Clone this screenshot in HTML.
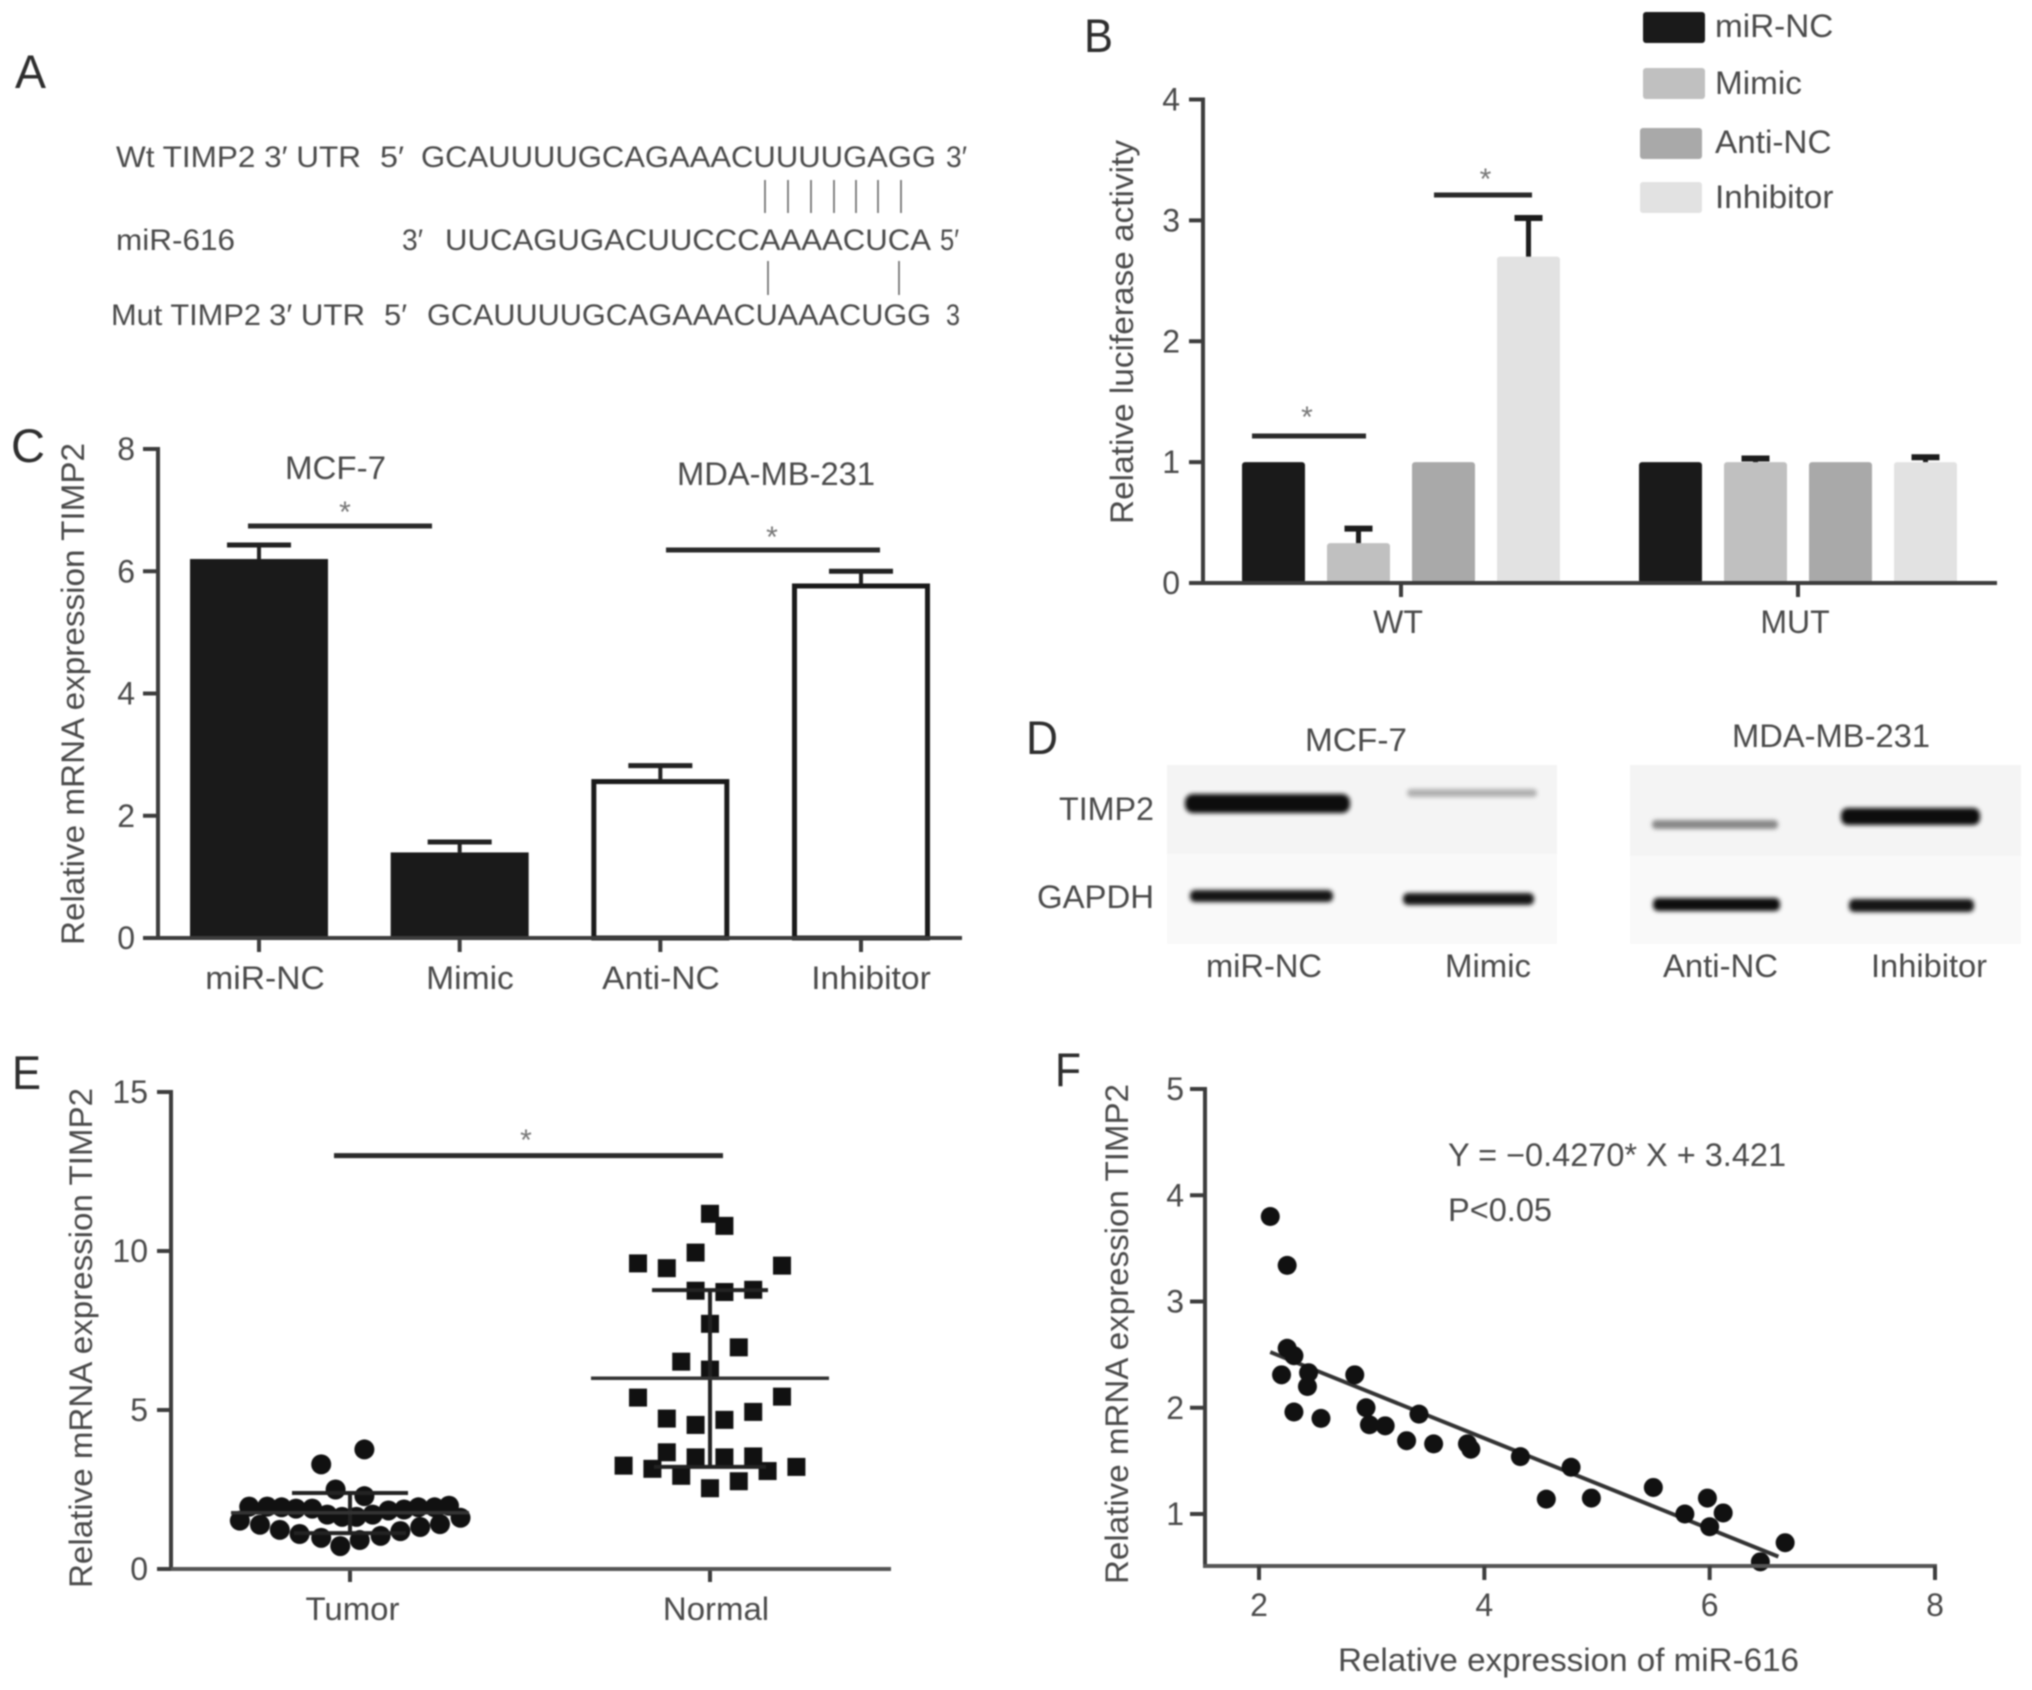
<!DOCTYPE html>
<html lang="en">
<head>
<meta charset="utf-8">
<title>miR-616 and TIMP2 figure</title>
<style>
html,body{margin:0;padding:0;background:#fff;}
svg{display:block;filter:blur(0.9px);}
text{font-family:"Liberation Sans",sans-serif;fill:#4a4a4a;}
.lab{font-size:32px;}
.seq{font-size:30px;}
.title{font-size:32px;}
.panel{font-size:47px;fill:#2e2e2e;}
</style>
</head>
<body>
<svg id="fig" xmlns="http://www.w3.org/2000/svg" width="2032" height="1690" viewBox="0 0 2032 1690">
<defs>
<filter id="soft" x="-20%" y="-100%" width="140%" height="300%"><feGaussianBlur stdDeviation="2.2"/></filter>
</defs>
<rect x="0" y="0" width="2032" height="1690" fill="#fff"/>

<!-- Panel letters -->
<text class="panel" x="15" y="88" textLength="31" lengthAdjust="spacingAndGlyphs">A</text>
<text class="panel" x="1084" y="52" textLength="29" lengthAdjust="spacingAndGlyphs">B</text>
<text class="panel" x="11" y="462" textLength="34" lengthAdjust="spacingAndGlyphs">C</text>
<text class="panel" x="1026" y="754" textLength="32" lengthAdjust="spacingAndGlyphs">D</text>
<text class="panel" x="12" y="1089" textLength="29" lengthAdjust="spacingAndGlyphs">E</text>
<text class="panel" x="1055" y="1086" textLength="26" lengthAdjust="spacingAndGlyphs">F</text>

<g transform="translate(-3,0)">
<!-- Panel A -->
<g>
<text class="seq" x="119" y="167" textLength="245" lengthAdjust="spacingAndGlyphs">Wt TIMP2 3′ UTR</text>
<text class="seq" x="383" y="167" textLength="24" lengthAdjust="spacingAndGlyphs">5′</text>
<text class="seq" x="424" y="167" textLength="515" lengthAdjust="spacingAndGlyphs">GCAUUUUGCAGAAACUUUUGAGG</text>
<text class="seq" x="949" y="167" textLength="21" lengthAdjust="spacingAndGlyphs">3′</text>
<text class="seq" x="119" y="250" textLength="119" lengthAdjust="spacingAndGlyphs">miR-616</text>
<text class="seq" x="405" y="250" textLength="21" lengthAdjust="spacingAndGlyphs">3′</text>
<text class="seq" x="448" y="250" textLength="486" lengthAdjust="spacingAndGlyphs">UUCAGUGACUUCCCAAAACUCA</text>
<text class="seq" x="943" y="250" textLength="19" lengthAdjust="spacingAndGlyphs">5′</text>
<text class="seq" x="114" y="325" textLength="150" lengthAdjust="spacingAndGlyphs">Mut TIMP2</text>
<text class="seq" x="272" y="325" textLength="96" lengthAdjust="spacingAndGlyphs">3′ UTR</text>
<text class="seq" x="387" y="325" textLength="23" lengthAdjust="spacingAndGlyphs">5′</text>
<text class="seq" x="430" y="325" textLength="504" lengthAdjust="spacingAndGlyphs">GCAUUUUGCAGAAACUAAACUGG</text>
<text class="seq" x="949" y="325" textLength="14" lengthAdjust="spacingAndGlyphs">3</text>
<g stroke="#666" stroke-width="1.6">
<line x1="768" x2="768" y1="180" y2="213"/><line x1="791" x2="791" y1="180" y2="213"/><line x1="814" x2="814" y1="180" y2="213"/><line x1="837" x2="837" y1="180" y2="213"/><line x1="859" x2="859" y1="180" y2="213"/><line x1="881" x2="881" y1="180" y2="213"/><line x1="904" x2="904" y1="180" y2="213"/>
</g>
<g stroke="#666" stroke-width="1.6">
<line x1="771" x2="771" y1="261" y2="295"/><line x1="902" x2="902" y1="261" y2="295"/>
</g>
</g>

<text class="title" transform="translate(1136,332) rotate(-90)" text-anchor="middle" textLength="384" lengthAdjust="spacingAndGlyphs">Relative luciferase activity</text>
<text class="title" transform="translate(87,694) rotate(-90)" text-anchor="middle" textLength="502" lengthAdjust="spacingAndGlyphs">Relative mRNA expression TIMP2</text>
<text class="title" transform="translate(95,1338) rotate(-90)" text-anchor="middle" textLength="500" lengthAdjust="spacingAndGlyphs">Relative mRNA expression TIMP2</text>
<text class="title" transform="translate(1131,1334) rotate(-90)" text-anchor="middle" textLength="500" lengthAdjust="spacingAndGlyphs">Relative mRNA expression TIMP2</text>
<text class="lab" x="1341" y="1671" textLength="461" lengthAdjust="spacingAndGlyphs">Relative expression of miR-616</text>
<text class="lab" x="1451" y="1166" textLength="338" lengthAdjust="spacingAndGlyphs">Y = −0.4270* X + 3.421</text>
<text class="lab" x="1451" y="1221" textLength="104" lengthAdjust="spacingAndGlyphs">P&lt;0.05</text>
<text class="lab" x="288" y="479" textLength="101" lengthAdjust="spacingAndGlyphs">MCF-7</text>
<text class="lab" x="680" y="485" textLength="198" lengthAdjust="spacingAndGlyphs">MDA-MB-231</text>

<!-- Panel D western blot -->
<g>
<text class="lab" x="1308" y="751" textLength="102" lengthAdjust="spacingAndGlyphs">MCF-7</text>
<text class="lab" x="1735" y="747" textLength="198" lengthAdjust="spacingAndGlyphs">MDA-MB-231</text>
<text class="lab" x="1062" y="820" textLength="95" lengthAdjust="spacingAndGlyphs">TIMP2</text>
<text class="lab" x="1040" y="908" textLength="117" lengthAdjust="spacingAndGlyphs">GAPDH</text>
<text class="lab" x="1209" y="977" textLength="116" lengthAdjust="spacingAndGlyphs">miR-NC</text>
<text class="lab" x="1448" y="977" textLength="86" lengthAdjust="spacingAndGlyphs">Mimic</text>
<text class="lab" x="1666" y="977" textLength="115" lengthAdjust="spacingAndGlyphs">Anti-NC</text>
<text class="lab" x="1874" y="977" textLength="116" lengthAdjust="spacingAndGlyphs">Inhibitor</text>
<rect x="1170" y="765" width="390" height="89" fill="#f4f4f4"/>
<rect x="1170" y="854" width="390" height="90" fill="#f9f9f9"/>
<rect x="1633" y="765" width="391" height="91" fill="#f4f4f4"/>
<rect x="1633" y="856" width="391" height="88" fill="#f9f9f9"/>
<g filter="url(#soft)">
<rect x="1188" y="794" width="165" height="19" rx="8" fill="#0c0c0c"/>
<rect x="1410" y="789" width="130" height="8" rx="4" fill="#b0b0b0"/>
<rect x="1655" y="820" width="126" height="9" rx="4" fill="#888"/>
<rect x="1844" y="808" width="139" height="17" rx="7" fill="#0c0c0c"/>
<rect x="1193" y="890" width="143" height="12" rx="5" fill="#151515"/>
<rect x="1406" y="893" width="131" height="12" rx="5" fill="#151515"/>
<rect x="1656" y="898" width="127" height="13" rx="5" fill="#101010"/>
<rect x="1852" y="899" width="125" height="13" rx="5" fill="#151515"/>
</g>
</g>

<g id="chartB"></g>
<g id="chartC"></g>
<g id="chartE"></g>
<g id="chartF"></g>
</g>
</svg>

<script>
// Panel B data
const bCategories = ['WT', 'MUT'];
const bSeries = ['miR-NC', 'Mimic', 'Anti-NC', 'Inhibitor'];
const bColors = ['#1a1a1a', '#c0c0c0', '#a9a9a9', '#e2e2e2'];
const bWtValues = [1, 0.33, 1, 2.7];
const bMutValues = [1, 1, 1, 1];
const bWtErrTops = [1, 0.45, 1, 3.02];
const bMutErrTops = [1, 1.03, 1, 1.04];
const bTicks = [0, 1, 2, 3, 4];

// Panel C data
const cCategories = ['miR-NC', 'Mimic', 'Anti-NC', 'Inhibitor'];
const cValues = [6.2, 1.4, 2.6, 5.8];
const cErrTops = [6.43, 1.57, 2.82, 6.0];
const cFilled = [true, true, false, false];
const cTicks = [0, 2, 4, 6, 8];

// Panel E data (jitter is in category units around each group)
const eCategories = ['Tumor', 'Normal'];
const eTicks = [0, 5, 10, 15];
const eTumorValues = [3.76,3.29,2.50,2.29,1.96,1.96,1.94,1.90,1.90,1.71,1.64,1.64,1.71,1.84,1.87,1.94,1.94,1.99,1.61,1.52,1.39,1.23,1.10,0.98,0.72,0.91,1.04,1.19,1.32,1.41];
const eTumorJitter = [0.04,-0.08,-0.04,0.04,-0.28,-0.23,-0.19,-0.15,-0.105,-0.063,-0.022,0.018,0.063,0.107,0.15,0.19,0.235,0.275,0.307,-0.306,-0.25,-0.195,-0.14,-0.08,-0.027,0.027,0.085,0.14,0.195,0.25];
const eNormalValues = [11.17,10.79,9.95,9.61,9.46,9.54,8.75,8.71,8.78,7.71,6.97,6.52,6.27,5.39,5.42,4.94,4.73,4.69,4.53,3.67,3.51,3.51,3.54,3.25,3.15,3.21,3.08,2.93,2.76,2.54];
const eNormalJitter = [0,0.04,-0.04,-0.2,-0.12,0.2,-0.04,0.04,0.12,0,0.08,-0.08,0,-0.2,0.2,0.12,-0.12,0.04,-0.04,-0.12,-0.04,0.04,0.12,-0.24,-0.16,0.24,0.16,-0.08,0.08,0];
const eMeans = [1.77, 6];
const eSdLow = [1.13, 3.21];
const eSdHigh = [2.39, 8.77];
const eSigLevel = 13;

// Panel F data
const fXValues = [2.10,2.25,2.25,2.31,2.20,2.44,2.43,2.31,2.55,2.85,2.95,2.98,3.12,3.31,3.42,3.55,3.85,3.88,4.32,4.77,4.55,4.95,5.50,5.78,5.98,6.12,6.00,6.45,6.67];
const fYValues = [3.80,3.34,2.56,2.49,2.31,2.33,2.20,1.96,1.90,2.31,2.00,1.84,1.83,1.69,1.94,1.66,1.66,1.61,1.54,1.44,1.14,1.15,1.25,1.00,1.15,1.01,0.88,0.55,0.73];
const fXTicks = [2, 4, 6, 8];
const fYTicks = [1, 2, 3, 4, 5];
const fSlope = -0.4270;
const fIntercept = 3.421;
const fLineX = [2.1, 6.61];

const NS = 'http://www.w3.org/2000/svg';
const AXIS = '#3c3c3c';
function mk(parent, tag, attrs, txt) {
  const el = document.createElementNS(NS, tag);
  for (const k in attrs) el.setAttribute(k, attrs[k]);
  if (txt !== undefined) el.textContent = txt;
  parent.appendChild(el);
  return el;
}
function linear(d0, d1, r0, r1) {
  return v => r0 + (v - d0) * (r1 - r0) / (d1 - d0);
}
function ln(parent, x1, y1, x2, y2, w, c) {
  return mk(parent, 'line', {x1, y1, x2, y2, 'stroke-width': w, stroke: c || AXIS});
}
function label(parent, x, y, s, anchor, widen) {
  const t = mk(parent, 'text', {x, y, class: 'lab', 'text-anchor': anchor || 'middle'}, s);
  if (widen) {
    t.setAttribute('textLength', t.getComputedTextLength() * widen);
    t.setAttribute('lengthAdjust', 'spacingAndGlyphs');
  }
  return t;
}
function star(parent, x, y) {
  return mk(parent, 'text', {x, y, 'text-anchor': 'middle', 'font-size': 30, style: 'fill:#777'}, '*');
}

/* ---------- Panel B ---------- */
(function () {
  const g = document.getElementById('chartB');
  const y = linear(0, 4, 583, 99.5);
  const groupX = linear(0, 1, 1404, 1801);
  const barW = 63, pitch = 85;
  const rows = [bWtValues, bMutValues];
  const tops = [bWtErrTops, bMutErrTops];
  bCategories.forEach((cat, gi) => {
    bSeries.forEach((s, i) => {
      const cx = groupX(gi) + (i - 1.5) * pitch;
      const v = rows[gi][i];
      const bar = mk(g, 'rect', {x: cx - barW / 2, y: y(v), width: barW, height: y(0) - y(v), rx: 3, fill: bColors[i]});
      
      
      if (tops[gi][i] > v) {
        const stem = ln(g, cx, y(v), cx, y(tops[gi][i]), 5, '#1c1c1c');
        
        
        const cap = ln(g, cx - 14, y(tops[gi][i]), cx + 14, y(tops[gi][i]), 6, '#1c1c1c');
        
        
      }
    });
    const tick = ln(g, groupX(gi), y(0), groupX(gi), y(0) + 14, 4);
    
    
    const t = label(g, groupX(gi) - 3, 633, cat);
    
    
  });
  const yAxis = ln(g, 1206, y(4) - 2, 1206, y(0) + 2, 4);
  
  
  const xAxis = ln(g, 1192, y(0), 2000, y(0), 4);
  
  
  bTicks.forEach(v => {
    const tk = ln(g, 1192, y(v), 1206, y(v), 4);
    
    
    const t = label(g, 1183, y(v) + 11, String(v), 'end');
    
    
  });
  const sig1 = ln(g, 1255, 436, 1369, 436, 5, '#2a2a2a');
  
  
  const sig2 = ln(g, 1437, 195, 1535, 195, 5, '#2a2a2a');
  
  
  const s1 = star(g, 1310, 427);
  
  
  const s2 = star(g, 1488.5, 189);
  
  
  const legendXs = [1644, 1644, 1641, 1641];
  bSeries.forEach((s, i) => {
    const ly = 12 + [0, 56, 116, 170][i];
    const sw = mk(g, 'rect', {x: legendXs[i] + 2, y: ly, width: 62, height: 31, rx: 3, fill: bColors[i]});
    
    
    const t = label(g, 1718, 12 + [25, 82, 141, 196][i], s, 'start', 1.04);
    
    
  });
})();

/* ---------- Panel C ---------- */
(function () {
  const g = document.getElementById('chartC');
  const y = linear(0, 8, 938, 449);
  const x = linear(0, 3, 262, 864);
  const barW = 138;
  cCategories.forEach((cat, i) => {
    const cx = x(i), v = cValues[i];
    const stem = ln(g, cx, y(v), cx, y(cErrTops[i]), 4, '#222');
    
    
    const cap = ln(g, cx - 32, y(cErrTops[i]), cx + 32, y(cErrTops[i]), 5, '#222');
    
    
    const filled = cFilled[i];
    const bar = mk(g, 'rect', {
      x: filled ? cx - barW / 2 : cx - barW / 2 + 2.5, y: filled ? y(v) : y(v) + 2.5,
      width: filled ? barW : barW - 5, height: filled ? y(0) - y(v) : y(0) - y(v) - 2.5,
      fill: filled ? '#1a1a1a' : '#fff', stroke: filled ? 'none' : '#1a1a1a', 'stroke-width': 5
    });
    
    
    const tick = ln(g, cx, y(0), cx, y(0) + 14, 4);
    
    
    const t = label(g, [268, 473, 664, 874][i], 989, cat, 'middle', 1.05);
    
    
  });
  const yAxis = ln(g, 161, y(8) - 2, 161, y(0) + 2, 4);
  
  
  const xAxis = ln(g, 146, y(0), 965, y(0), 4);
  
  
  cTicks.forEach(v => {
    const tk = ln(g, 146, y(v), 161, y(v), 4);
    
    
    const t = label(g, 138, y(v) + 11, String(v), 'end');
    
    
  });
  const sig1 = ln(g, 251, 526, 435, 526, 5, '#2a2a2a');
  
  
  const sig2 = ln(g, 669, 550, 883, 550, 5, '#2a2a2a');
  
  
  const s1 = star(g, 348, 522);
  
  
  const s2 = star(g, 775, 547);
  
  
})();

/* ---------- Panel E ---------- */
(function () {
  const g = document.getElementById('chartE');
  const y = linear(0, 15, 1569, 1092);
  const x = linear(0, 1, 353, 713);
  const dark = '#111';
  eTumorValues.forEach((v, i) => {
    const pt = mk(g, 'circle', {cx: x(0 + eTumorJitter[i]), cy: y(v), r: 10, fill: dark});
    
    
  });
  eNormalValues.forEach((v, i) => {
    const px = x(1 + eNormalJitter[i]), py = y(v);
    const pt = mk(g, 'rect', {x: px - 9, y: py - 9, width: 18, height: 18, fill: dark});
    
    
  });
  eCategories.forEach((cat, i) => {
    const cx = x(i);
    const stem = ln(g, cx, y(eSdLow[i]), cx, y(eSdHigh[i]), 4, '#222');
    
    
    const mean = ln(g, cx - 119, y(eMeans[i]), cx + 119, y(eMeans[i]), 3.5, '#333');
    
    
    const hi = ln(g, cx - 58, y(eSdHigh[i]), cx + 58, y(eSdHigh[i]), 4, '#222');
    
    
    const lo = ln(g, cx - 56, y(eSdLow[i]), cx + 56, y(eSdLow[i]), 4, '#222');
    
    
    const tick = ln(g, cx, y(0), cx, y(0) + 13, 4);
    
    
    const t = label(g, cx + [2.5, 6][i], 1620, cat, 'middle', 1.03);
    
    
  });
  const yAxis = ln(g, 174, y(15) - 2, 174, y(0) + 2, 4);
  
  
  const xAxis = ln(g, 160, y(0), 894, y(0), 4, '#555');
  
  
  eTicks.forEach(v => {
    const tk = ln(g, 160, y(v), 174, y(v), 4);
    
    
    const t = label(g, 151, y(v) + 11, String(v), 'end');
    
    
  });
  const sig = ln(g, 337, y(eSigLevel), 726, y(eSigLevel), 5, '#2a2a2a');
  
  
  const s = star(g, 529, 1150);
  
  
})();

/* ---------- Panel F ---------- */
(function () {
  const g = document.getElementById('chartF');
  const x = linear(2, 8, 1262, 1938);
  const y = linear(1, 5, 1514, 1089);
  const fit = mk(g, 'line', {x1: x(fLineX[0]), y1: y(fSlope * fLineX[0] + fIntercept), x2: x(fLineX[1]), y2: y(fSlope * fLineX[1] + fIntercept), stroke: '#333', 'stroke-width': 4});
  
  
  fXValues.forEach((v, i) => {
    const pt = mk(g, 'circle', {cx: x(v), cy: y(fYValues[i]), r: 9.5, fill: '#111'});
    
    
  });
  const yAxis = ln(g, 1208, y(5) - 2, 1208, 1568, 4);
  
  
  const xAxis = ln(g, 1206, 1566, x(8) + 2, 1566, 4, '#555');
  
  
  fYTicks.forEach(v => {
    const tk = ln(g, 1193, y(v), 1208, y(v), 4);
    
    
    const t = label(g, 1187, y(v) + 11, String(v), 'end');
    
    
  });
  fXTicks.forEach(v => {
    const tk = ln(g, x(v), 1566, x(v), 1580, 4);
    
    
    const t = label(g, x(v), 1616, String(v));
    
    
  });
})();
</script>
</body>
</html>
